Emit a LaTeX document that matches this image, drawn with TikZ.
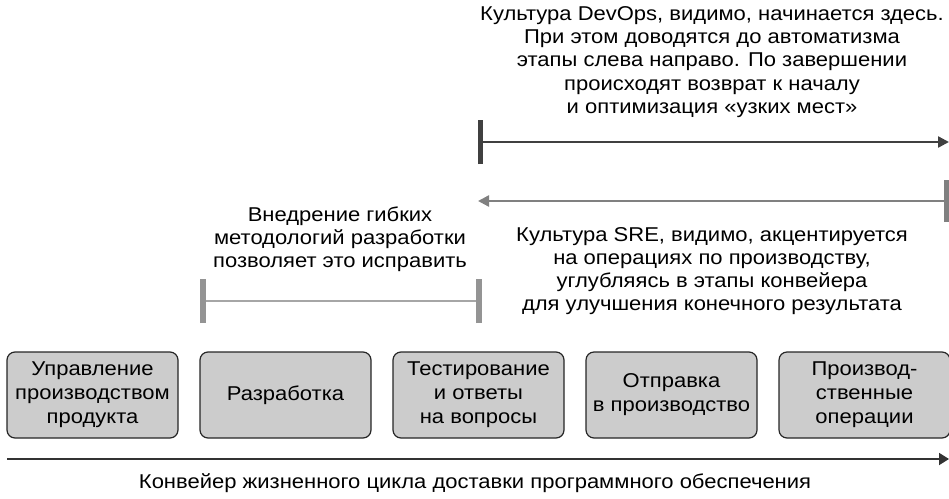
\documentclass[tikz,border=0pt]{standalone}
\usepackage{fontspec}
\setmainfont{Liberation Sans}
\newfontfamily\labelfont[FakeStretch=1.1]{Liberation Sans}
\usetikzlibrary{arrows.meta}
\tikzset{
  stage/.style={draw=black!85, fill=black!20, line width=1.2pt, rounded corners=8pt,
    minimum width=171pt, minimum height=86pt, inner sep=0pt, align=center,
    font=\labelfont\fontsize{20}{24}\selectfont},
  label/.style={align=center, inner sep=0pt, font=\labelfont\fontsize{20}{23.2}\selectfont},
  devline/.style={draw=black!75, line width=2.4pt, -{Triangle[length=11pt,width=11pt]}},
  devbar/.style={draw=black!75, line width=5pt},
  sreline/.style={draw=black!50, line width=2.4pt, -{Triangle[length=11pt,width=11pt]}},
  srebar/.style={draw=black!50, line width=5pt},
  agline/.style={draw=black!35, line width=2pt},
  agbar/.style={draw=black!42, line width=6pt},
  axisline/.style={draw=black!80, line width=1.8pt, -{Triangle[length=10pt,width=12pt]}},
}
\begin{document}
\begin{tikzpicture}[x=1pt,y=-1pt]
\useasboundingbox (0,0) rectangle (949,498);
% stages
\node[stage] (b1) at (92.5,395) {Управление\\производством\\продукта};
\node[stage] (b2) at (285.5,395) {Разработка};
\node[stage] (b3) at (478.5,395) {Тестирование\\и ответы\\на вопросы};
\node[stage] (b4) at (671.5,395) {Отправка\\в производство};
\node[stage] (b5) at (864.5,395) {Производ-\\ственные\\операции};
% axis
\coordinate (axL) at (7,459);
\coordinate (axR) at (949,459);
\draw[axisline] (axL) -- (axR);
\node[label] (axT) at (475,483) {Конвейер жизненного цикла доставки программного обеспечения};
% DevOps
\coordinate (devL) at (480,142);
\coordinate (devR) at (949,142);
\draw[devline] (devL) -- (devR);
\draw[devbar] ([yshift=-22pt]devL) -- ([yshift=22pt]devL);
\node[label] (devT) at (712,62) {Культура DevOps, видимо, начинается здесь.\\При этом доводятся до автоматизма\\этапы слева направо. По завершении\\происходят возврат к началу\\и оптимизация «узких мест»};
% SRE
\coordinate (sreR) at (946,201);
\coordinate (sreL) at (478,201);
\draw[sreline] (sreR) -- (sreL);
\draw[srebar] ([yshift=-21pt]sreR) -- ([yshift=21pt]sreR);
\node[label] (sreT) at (712,271) {Культура SRE, видимо, акцентируется\\на операциях по производству,\\углубляясь в этапы конвейера\\для улучшения конечного результата};
% Agile
\coordinate (agL) at (203,301);
\coordinate (agR) at (479,301);
\draw[agline] (agL) -- (agR);
\draw[agbar] ([yshift=-22pt]agL) -- ([yshift=22pt]agL);
\draw[agbar] ([yshift=-22pt]agR) -- ([yshift=22pt]agR);
\node[label] (agT) at (340,239) {Внедрение гибких\\методологий разработки\\позволяет это исправить};
\end{tikzpicture}
\end{document}
